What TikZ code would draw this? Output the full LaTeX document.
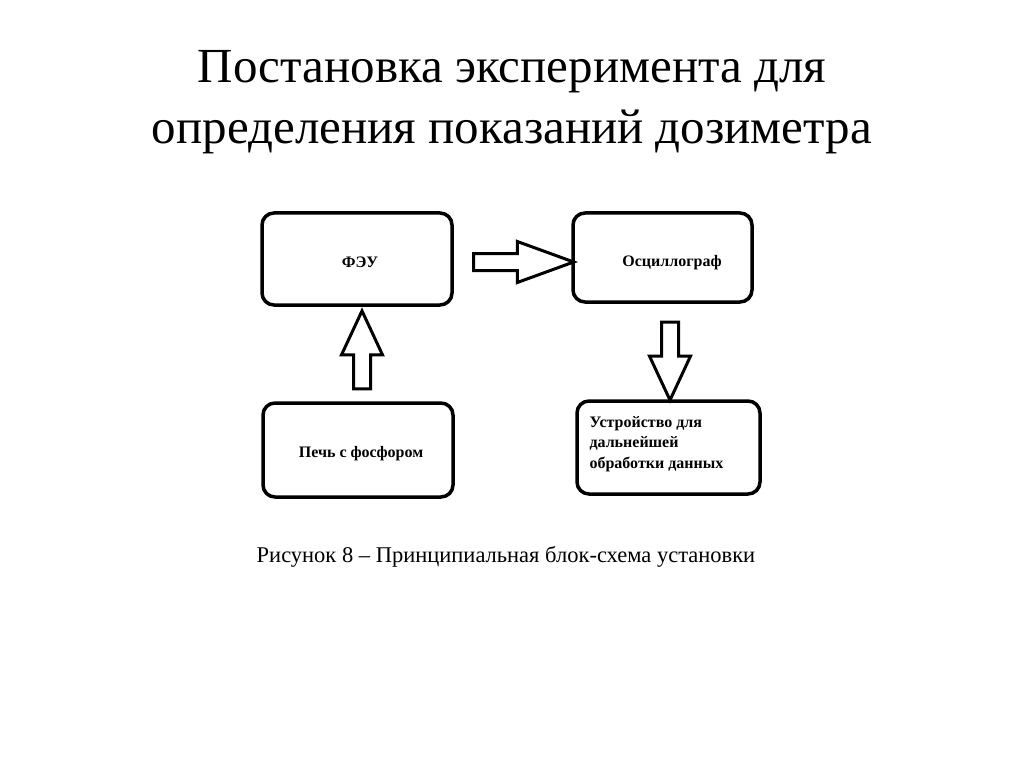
\documentclass[tikz,border=0pt]{standalone}
\usepackage{fontspec}
\setmainfont{Liberation Serif}
\usetikzlibrary{shapes.arrows, positioning}

\tikzset{
  block/.style={draw, line width=3.5pt, rounded corners=12pt, inner sep=0pt},
  blockarrow/.style={draw, line width=3pt, single arrow, inner sep=7pt,
    single arrow head extend=12pt, minimum width=40pt},
  blocklabel/.style={font=\fontsize{16}{20.5}\selectfont\bfseries}
}

\begin{document}
\begin{tikzpicture}[x=1pt, y=-1pt]
	\useasboundingbox (0,0) rectangle (1024,767);
	% title
	\node[font=\fontsize{49}{61}\selectfont, align=center] (title) at (512,102)
	  {Постановка эксперимента для\\определения показаний дозиметра};
	% blocks
	\node[block, minimum width=190pt, minimum height=92pt] (feu) at (357,259) {};
	\node[block, minimum width=179pt, minimum height=89pt] (osc) at (662.5,257.5) {};
	\node[block, minimum width=190pt, minimum height=94pt] (oven) at (358,450) {};
	\node[block, minimum width=183pt, minimum height=93pt] (dev) at (668.5,447.5) {};
	% texts
	\node[blocklabel] (tfeu) at (360,262) {ФЭУ};
	\node[blocklabel] (tosc) at (672,263) {Осциллограф};
	\node[blocklabel] (toven) at (361,454) {Печь с фосфором};
	\node[blocklabel, anchor=west, align=left] (tdev) at (586,444)
	  {Устройство для\\дальнейшей\\обработки данных};
	% arrows
	\node[blockarrow, minimum height=100pt, single arrow tip angle=40] (a1) at (512,262) {};
	\node[blockarrow, minimum height=78pt, single arrow tip angle=50, rotate=90] (a2) at (362,359) {};
	\node[blockarrow, minimum height=78pt, single arrow tip angle=50, rotate=-90] (a3) at (670,352) {};
	% caption
	\node[font=\fontsize{22.5}{26}\selectfont] (cap) at (506,557)
	  {Рисунок 8 -- Принципиальная блок-схема установки};
\end{tikzpicture}
\end{document}
